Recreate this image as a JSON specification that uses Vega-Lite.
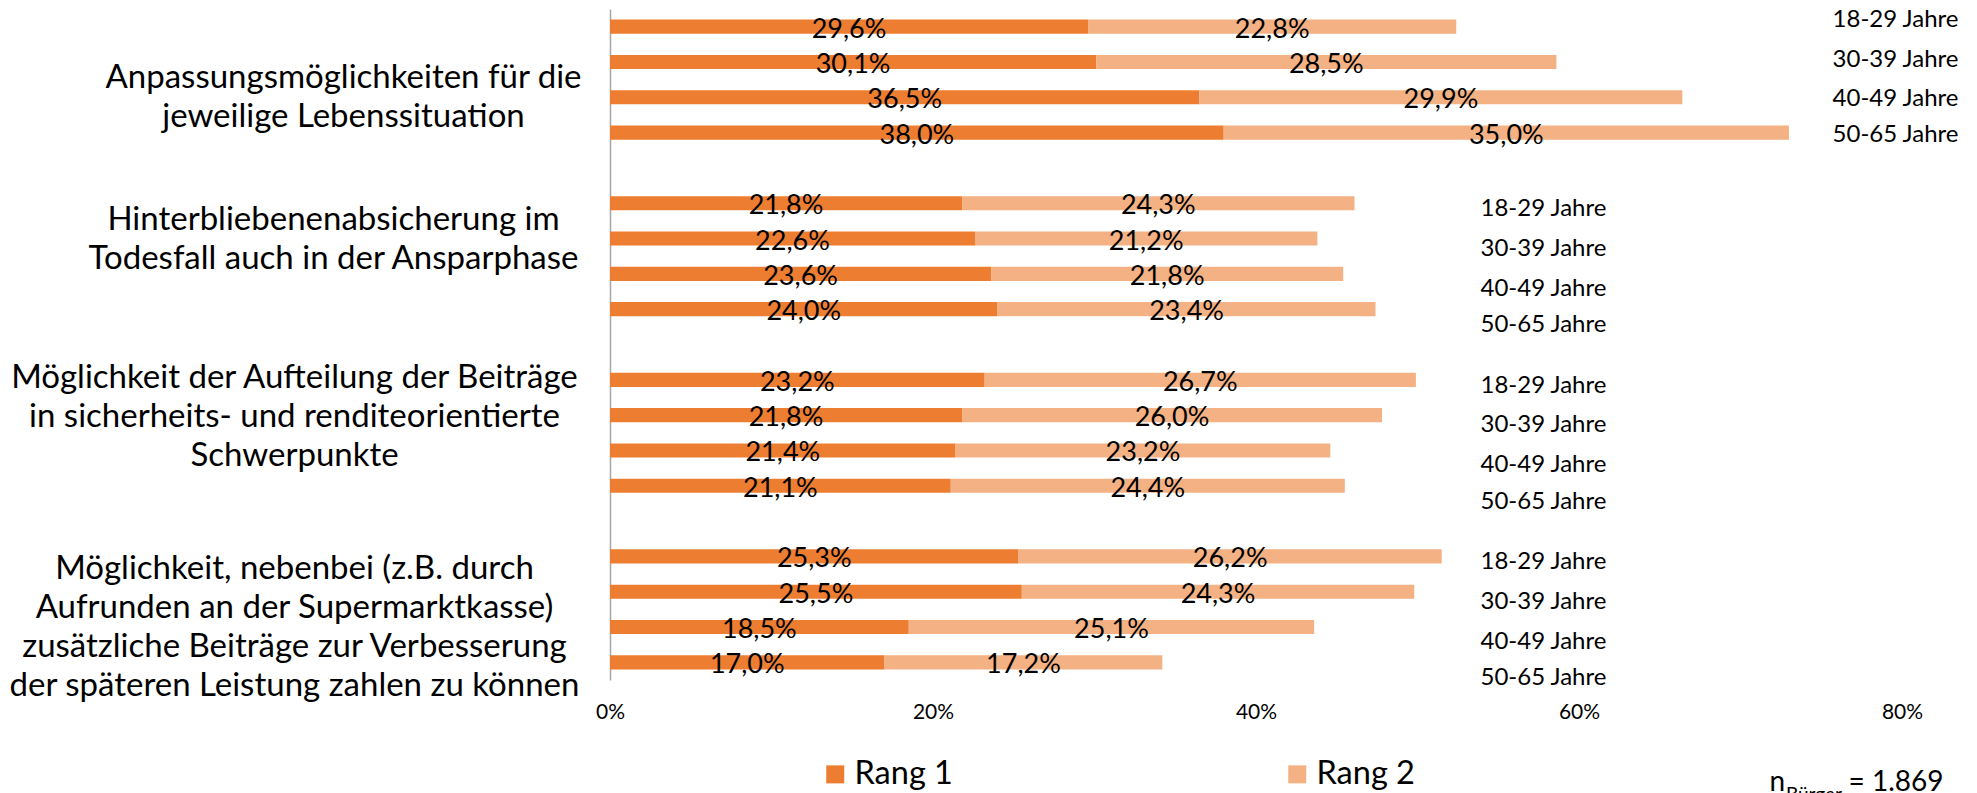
{
  "$schema": "https://vega.github.io/schema/vega-lite/v6.json",
  "width": 1292,
  "height": 671,
  "autosize": {"type": "none"},
  "padding": {"left": 610, "top": 9, "right": 75, "bottom": 113},
  "background": "white",
  "config": {
    "locale": {"number": {"decimal": ",", "thousands": ".", "grouping": [3], "currency": ["", " €"]}},
    "font": "Lato",
    "view": {"stroke": null}
  },
  "title": {"text": "Bürger", "orient": "bottom", "anchor": "end", "frame": "group", "fontSize": 19, "fontWeight": "normal", "font": "Lato", "color": "black", "dx": -60, "dy": -10, "offset": 0},
  "datasets": {
    "bars": [
      {"g": "Anpassungsmöglichkeiten für die|jeweilige Lebenssituation", "age": "18-29 Jahre", "rang": "Rang 1", "v": 0.296},
      {"g": "Anpassungsmöglichkeiten für die|jeweilige Lebenssituation", "age": "18-29 Jahre", "rang": "Rang 2", "v": 0.228},
      {"g": "Anpassungsmöglichkeiten für die|jeweilige Lebenssituation", "age": "30-39 Jahre", "rang": "Rang 1", "v": 0.301},
      {"g": "Anpassungsmöglichkeiten für die|jeweilige Lebenssituation", "age": "30-39 Jahre", "rang": "Rang 2", "v": 0.285},
      {"g": "Anpassungsmöglichkeiten für die|jeweilige Lebenssituation", "age": "40-49 Jahre", "rang": "Rang 1", "v": 0.365},
      {"g": "Anpassungsmöglichkeiten für die|jeweilige Lebenssituation", "age": "40-49 Jahre", "rang": "Rang 2", "v": 0.299},
      {"g": "Anpassungsmöglichkeiten für die|jeweilige Lebenssituation", "age": "50-65 Jahre", "rang": "Rang 1", "v": 0.380},
      {"g": "Anpassungsmöglichkeiten für die|jeweilige Lebenssituation", "age": "50-65 Jahre", "rang": "Rang 2", "v": 0.350},
      {"g": "Hinterbliebenenabsicherung im|Todesfall auch in der Ansparphase", "age": "18-29 Jahre", "rang": "Rang 1", "v": 0.218},
      {"g": "Hinterbliebenenabsicherung im|Todesfall auch in der Ansparphase", "age": "18-29 Jahre", "rang": "Rang 2", "v": 0.243},
      {"g": "Hinterbliebenenabsicherung im|Todesfall auch in der Ansparphase", "age": "30-39 Jahre", "rang": "Rang 1", "v": 0.226},
      {"g": "Hinterbliebenenabsicherung im|Todesfall auch in der Ansparphase", "age": "30-39 Jahre", "rang": "Rang 2", "v": 0.212},
      {"g": "Hinterbliebenenabsicherung im|Todesfall auch in der Ansparphase", "age": "40-49 Jahre", "rang": "Rang 1", "v": 0.236},
      {"g": "Hinterbliebenenabsicherung im|Todesfall auch in der Ansparphase", "age": "40-49 Jahre", "rang": "Rang 2", "v": 0.218},
      {"g": "Hinterbliebenenabsicherung im|Todesfall auch in der Ansparphase", "age": "50-65 Jahre", "rang": "Rang 1", "v": 0.240},
      {"g": "Hinterbliebenenabsicherung im|Todesfall auch in der Ansparphase", "age": "50-65 Jahre", "rang": "Rang 2", "v": 0.234},
      {"g": "Möglichkeit der Aufteilung der Beiträge|in sicherheits- und renditeorientierte|Schwerpunkte", "age": "18-29 Jahre", "rang": "Rang 1", "v": 0.232},
      {"g": "Möglichkeit der Aufteilung der Beiträge|in sicherheits- und renditeorientierte|Schwerpunkte", "age": "18-29 Jahre", "rang": "Rang 2", "v": 0.267},
      {"g": "Möglichkeit der Aufteilung der Beiträge|in sicherheits- und renditeorientierte|Schwerpunkte", "age": "30-39 Jahre", "rang": "Rang 1", "v": 0.218},
      {"g": "Möglichkeit der Aufteilung der Beiträge|in sicherheits- und renditeorientierte|Schwerpunkte", "age": "30-39 Jahre", "rang": "Rang 2", "v": 0.260},
      {"g": "Möglichkeit der Aufteilung der Beiträge|in sicherheits- und renditeorientierte|Schwerpunkte", "age": "40-49 Jahre", "rang": "Rang 1", "v": 0.214},
      {"g": "Möglichkeit der Aufteilung der Beiträge|in sicherheits- und renditeorientierte|Schwerpunkte", "age": "40-49 Jahre", "rang": "Rang 2", "v": 0.232},
      {"g": "Möglichkeit der Aufteilung der Beiträge|in sicherheits- und renditeorientierte|Schwerpunkte", "age": "50-65 Jahre", "rang": "Rang 1", "v": 0.211},
      {"g": "Möglichkeit der Aufteilung der Beiträge|in sicherheits- und renditeorientierte|Schwerpunkte", "age": "50-65 Jahre", "rang": "Rang 2", "v": 0.244},
      {"g": "Möglichkeit, nebenbei (z.B. durch|Aufrunden an der Supermarktkasse)|zusätzliche Beiträge zur Verbesserung|der späteren Leistung zahlen zu können", "age": "18-29 Jahre", "rang": "Rang 1", "v": 0.253},
      {"g": "Möglichkeit, nebenbei (z.B. durch|Aufrunden an der Supermarktkasse)|zusätzliche Beiträge zur Verbesserung|der späteren Leistung zahlen zu können", "age": "18-29 Jahre", "rang": "Rang 2", "v": 0.262},
      {"g": "Möglichkeit, nebenbei (z.B. durch|Aufrunden an der Supermarktkasse)|zusätzliche Beiträge zur Verbesserung|der späteren Leistung zahlen zu können", "age": "30-39 Jahre", "rang": "Rang 1", "v": 0.255},
      {"g": "Möglichkeit, nebenbei (z.B. durch|Aufrunden an der Supermarktkasse)|zusätzliche Beiträge zur Verbesserung|der späteren Leistung zahlen zu können", "age": "30-39 Jahre", "rang": "Rang 2", "v": 0.243},
      {"g": "Möglichkeit, nebenbei (z.B. durch|Aufrunden an der Supermarktkasse)|zusätzliche Beiträge zur Verbesserung|der späteren Leistung zahlen zu können", "age": "40-49 Jahre", "rang": "Rang 1", "v": 0.185},
      {"g": "Möglichkeit, nebenbei (z.B. durch|Aufrunden an der Supermarktkasse)|zusätzliche Beiträge zur Verbesserung|der späteren Leistung zahlen zu können", "age": "40-49 Jahre", "rang": "Rang 2", "v": 0.251},
      {"g": "Möglichkeit, nebenbei (z.B. durch|Aufrunden an der Supermarktkasse)|zusätzliche Beiträge zur Verbesserung|der späteren Leistung zahlen zu können", "age": "50-65 Jahre", "rang": "Rang 1", "v": 0.170},
      {"g": "Möglichkeit, nebenbei (z.B. durch|Aufrunden an der Supermarktkasse)|zusätzliche Beiträge zur Verbesserung|der späteren Leistung zahlen zu können", "age": "50-65 Jahre", "rang": "Rang 2", "v": 0.172}
    ]
  },
  "data": {"name": "bars"},
  "encoding": {
    "y": {
      "field": "g", "type": "nominal", "sort": null,
      "scale": {"paddingInner": 0.2, "paddingOuter": 0},
      "axis": {
        "title": "n", "titleAngle": 0, "titleX": 1159, "titleY": 781, "titleAlign": "left", "titleBaseline": "alphabetic",
        "titleFont": "Lato", "titleFontSize": 28, "titleFontWeight": "normal", "titleColor": "black",
        "ticks": false, "tickSize": 0, "domainColor": "#A6A6A6", "domainWidth": 1.5,
        "labelFont": "Lato", "labelFontSize": 33, "labelColor": "black", "labelAlign": "center", "labelBaseline": "middle",
        "labelLimit": 2000, "labelLineHeight": 39, "labelBound": false,
        "labelExpr": "split(datum.label, '|')",
        "labelPadding": {"condition": [
          {"test": "indexof(datum.value, 'Anpassung') == 0", "value": 267},
          {"test": "indexof(datum.value, 'Hinter') == 0", "value": 277}
        ], "value": 316},
        "labelOffset": {"condition": [
          {"test": "indexof(datum.value, 'Anpassung') == 0", "value": -2},
          {"test": "indexof(datum.value, 'Hinter') == 0", "value": -36},
          {"test": "indexof(datum.value, 'Möglichkeit der') == 0", "value": -55}
        ], "value": -40}
      }
    },
    "yOffset": {"field": "age", "type": "nominal", "sort": null, "scale": {"paddingInner": 0.6, "paddingOuter": 0.3}}
  },
  "layer": [
    {
      "mark": {"type": "bar"},
      "encoding": {
        "x": {
          "field": "v", "type": "quantitative", "stack": "zero",
          "scale": {"domain": [0, 0.8], "nice": false},
          "axis": {
            "values": [0, 0.2, 0.4, 0.6, 0.8], "format": ".0%", "domain": false, "ticks": false, "grid": false,
            "labelFont": "Lato", "labelFontSize": 21, "labelColor": "black", "labelPadding": 21, "labelFlush": false,
            "title": "= 1.869", "titleX": 1333, "titleY": 110, "titleAlign": "right", "titleBaseline": "alphabetic",
            "titleFont": "Lato", "titleFontSize": 28, "titleFontWeight": "normal", "titleColor": "black"
          }
        },
        "color": {
          "field": "rang", "type": "nominal",
          "scale": {"domain": ["Rang 1", "Rang 2"], "range": ["#ED7D31", "#F4B183"]},
          "legend": {
            "orient": "none", "legendX": 209, "legendY": 749, "direction": "horizontal", "title": null,
            "symbolType": "square", "symbolSize": 324, "symbolStrokeWidth": 0, "symbolOpacity": 1,
            "labelFont": "Lato", "labelFontSize": 32.5, "labelColor": "black", "labelOffset": 3,
            "columnPadding": 328, "padding": 0, "labelLimit": 500
          }
        },
        "order": {"field": "rang"}
      }
    },
    {
      "mark": {"type": "text", "font": "Lato", "fontSize": 27, "dy": 3, "color": "black", "baseline": "middle"},
      "encoding": {
        "x": {"field": "v", "type": "quantitative", "stack": "zero", "bandPosition": 0.5},
        "detail": {"field": "rang"},
        "order": {"field": "rang"},
        "text": {"field": "v", "type": "quantitative", "format": ".1%"}
      }
    },
    {
      "transform": [{"filter": "datum.rang == 'Rang 1' && indexof(datum.g, 'Anpassung') == 0"}],
      "mark": {"type": "text", "font": "Lato", "fontSize": 24, "align": "left", "baseline": "middle", "color": "black",
        "dy": {"expr": "datum.age == '18-29 Jahre' ? -7 : datum.age == '30-39 Jahre' ? -2 : 2"}},
      "encoding": {
        "x": {"datum": 0.757, "type": "quantitative"},
        "text": {"field": "age"}
      }
    },
    {
      "transform": [{"filter": "datum.rang == 'Rang 1' && indexof(datum.g, 'Anpassung') != 0"}],
      "mark": {"type": "text", "font": "Lato", "fontSize": 24, "align": "left", "baseline": "middle", "color": "black",
        "dy": {"expr": "datum.age == '18-29 Jahre' ? 6 : datum.age == '30-39 Jahre' ? 10 : datum.age == '40-49 Jahre' ? 15 : 16"}},
      "encoding": {
        "x": {"datum": 0.539, "type": "quantitative"},
        "text": {"field": "age"}
      }
    }
  ]
}
